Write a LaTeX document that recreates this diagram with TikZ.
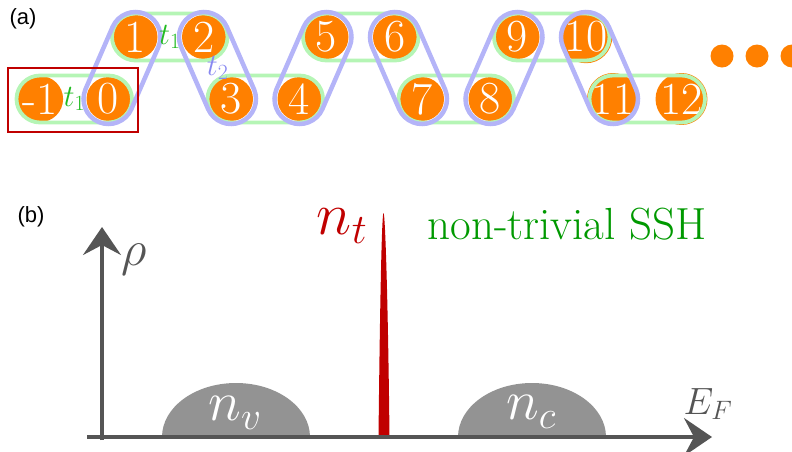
\documentclass[tikz,border=0pt]{standalone}
\usepackage{fix-cm}
\usepackage{fontspec}
\newfontfamily\panelfont{Liberation Sans}
\usetikzlibrary{arrows.meta,calc}

\definecolor{siteorange}{HTML}{FF8000}
\definecolor{bondgreen}{HTML}{B5F5B5}
\definecolor{bondblue}{HTML}{B4B4F8}
\definecolor{hopgreen}{HTML}{22BB22}
\definecolor{hopblue}{HTML}{8888F0}
\definecolor{cellred}{HTML}{C00000}
\definecolor{axisgray}{HTML}{555555}
\definecolor{bandgray}{HTML}{939393}
\definecolor{sshgreen}{HTML}{009900}

% stadium outline around two sites
\newcommand{\bondpill}[4]{%
  \draw[#1] let \p1=(#2.center), \p2=(#3.center), \n1={atan2(\y2-\y1,\x2-\x1)} in
    ($(\p1)+(\n1+90:#4)$) -- ($(\p2)+(\n1+90:#4)$)
    arc[start angle=\n1+90, delta angle=-180, radius=#4]
    -- ($(\p1)+(\n1-90:#4)$)
    arc[start angle=\n1-90, delta angle=-180, radius=#4] -- cycle;}

\begin{document}
\begin{tikzpicture}[x=1pt, y=-1pt,
    site/.style={circle, fill=siteorange, text=white, minimum size=44pt, inner sep=0pt,
        font=\fontsize{46}{46}\selectfont},
    moredot/.style={circle, fill=siteorange, minimum size=23pt, inner sep=0pt},
    intra/.style={draw=bondgreen, line width=3.8pt},
    inter/.style={draw=bondblue, line width=4.5pt},
    hop/.style={inner sep=0pt, font=\fontsize{31}{31}\selectfont},
    cellbox/.style={draw=cellred, line width=1.6pt},
    axis/.style={draw=axisgray, line width=3.4pt, -{Stealth[length=28pt, width=38pt, inset=10pt]}},
    band/.style={fill=bandgray},
    panel/.style={font=\panelfont\fontsize{22}{22}\selectfont}
]
    \useasboundingbox (0,0) rectangle (792,451);
    \clip (0,0) rectangle (792,451);

    \node[panel] (pa) at (23,19) {(a)};
    \node[panel] (pb) at (31,217) {(b)};

    % sites of the chain
    \node[site] (sm1) at (40,99) {-1};
    \node[site] (s0) at (108.5,99) {0};
    \node[site] (s1) at (135.5,37) {1};
    \node[site] (s2) at (204,37) {2};
    \node[site] (s3) at (231,99) {3};
    \node[site] (s4) at (299.5,99) {4};
    \node[site] (s5) at (326.5,37) {5};
    \node[site] (s6) at (395,37) {6};
    \node[site] (s7) at (422,99) {7};
    \node[site] (s8) at (490.5,99) {8};
    \node[site] (s9) at (517.5,37) {9};
    \node[site] (s10) at (586,37) {10};
    \node[site] (s11) at (613,99) {11};
    \node[site] (s12) at (681.5,99) {12};

    \node[moredot] (more1) at (722,56) {};
    \node[moredot] (more2) at (757,56) {};
    \node[moredot] (more3) at (792,56) {};

    % bonds
    \foreach \a/\b in {sm1/s0, s1/s2, s3/s4, s5/s6, s7/s8, s9/s10, s11/s12}
        \bondpill{intra}{\a}{\b}{23.5pt};
    \foreach \a/\b in {s0/s1, s2/s3, s4/s5, s6/s7, s8/s9, s10/s11}
        \bondpill{inter}{\a}{\b}{25pt};

    \node[hop, text=hopgreen] (t1a) at ($(sm1)!0.5!(s0)$) {$t_1$};
    \node[hop, text=hopgreen] (t1b) at ($(s1)!0.5!(s2)$) {$t_1$};
    \node[hop, text=hopblue] (t2a) at ($(s2)!0.5!(s3)$) {$t_2$};

    % unit cell
    \draw[cellbox] (8,68) rectangle (138,132);

    % density of states
    \fill[band] (162,437) arc[start angle=180, end angle=0, x radius=74pt, y radius=54pt];
    \fill[band] (458,437) arc[start angle=180, end angle=0, x radius=74pt, y radius=54pt];
    \fill[cellred] (378.5,437) .. controls (380,300) and (381.8,213) .. (383.5,213)
        .. controls (385.2,213) and (388,300) .. (389.5,437) -- cycle;

    \draw[axis] (102,440) -- (102,227);
    \draw[axis] (87,437) -- (712,437);

    \node[text=axisgray, font=\fontsize{50}{50}\selectfont] (rho) at (134,260) {$\rho$};
    \node[text=axisgray, font=\fontsize{38}{38}\selectfont] (ef) at (708,404) {$E_F$};
    \node[text=white, font=\fontsize{56}{56}\selectfont] (nv) at (235,413) {$n_v$};
    \node[text=white, font=\fontsize{56}{56}\selectfont] (nc) at (531,412) {$n_c$};
    \node[text=cellred, font=\fontsize{60}{60}\selectfont] (nt) at (342,226) {$n_t$};
    \node[text=sshgreen, font=\fontsize{45}{45}\selectfont] (ssh) at (567,224) {non-trivial SSH};
\end{tikzpicture}
\end{document}
